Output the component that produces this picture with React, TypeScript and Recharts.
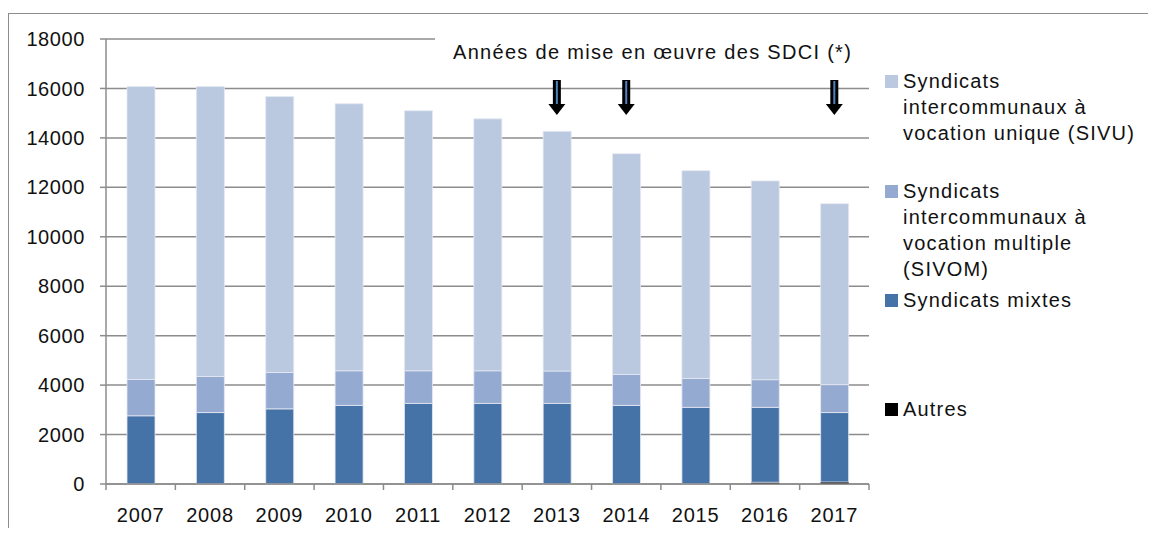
import { Bar, BarChart, CartesianGrid, ReferenceDot, XAxis, YAxis } from "recharts";

const years = ["2007", "2008", "2009", "2010", "2011", "2012", "2013", "2014", "2015", "2016", "2017"];
const autres = [0, 0, 0, 0, 0, 0, 0, 0, 0, 70, 80];
const mixtes = [2760, 2890, 3040, 3180, 3260, 3260, 3260, 3180, 3100, 3030, 2810];
const sivom = [1470, 1460, 1470, 1400, 1320, 1320, 1310, 1250, 1170, 1120, 1130];
const sivu = [11845, 11725, 11160, 10800, 10520, 10190, 9695, 8930, 8405, 8040, 7320];
const yTicks = [0, 2000, 4000, 6000, 8000, 10000, 12000, 14000, 16000, 18000];
const arrowYears = ["2013", "2014", "2017"];
const title = "Années de mise en œuvre des SDCI (*)";

const SERIES = [
  { key: "autres", name: "Autres", color: "#000000", lines: ["Autres"] },
  { key: "mixtes", name: "Syndicats mixtes", color: "#4573a7", lines: ["Syndicats mixtes"] },
  {
    key: "sivom",
    name: "SIVOM",
    color: "#95aad0",
    lines: ["Syndicats", "intercommunaux à", "vocation multiple", "(SIVOM)"],
  },
  {
    key: "sivu",
    name: "SIVU",
    color: "#bac8e0",
    lines: ["Syndicats", "intercommunaux à", "vocation unique (SIVU)"],
  },
];

// legend first-line centres (relative to root)
const LEGEND_TOP: Record<string, number> = { sivu: 73, sivom: 183, mixtes: 292, autres: 401 };

const rows = years.map((year, i) => ({
  year,
  autres: autres[i],
  mixtes: mixtes[i],
  sivom: sivom[i],
  sivu: sivu[i],
}));

const W = 1148;
const H = 520;
const PLOT_LEFT = 98;
const PLOT_RIGHT = 861;
const BAND = (PLOT_RIGHT - PLOT_LEFT) / years.length;
const FONT = "'Liberation Sans', Arial, Helvetica, sans-serif";
const GRID = "#8c8c8c";

const XTick = (props: any) => {
  const { x, y, payload, index } = props;
  return (
    <g>
      <line x1={x - BAND / 2} y1={y} x2={x - BAND / 2} y2={y + 6} stroke={GRID} strokeWidth={1.5} />
      {index === years.length - 1 && (
        <line x1={x + BAND / 2} y1={y} x2={x + BAND / 2} y2={y + 6} stroke={GRID} strokeWidth={1.5} />
      )}
      <text
        x={x}
        y={y + 31}
        textAnchor="middle"
        dominantBaseline="central"
        fontSize={20}
        fill="#111"
        fontFamily={FONT}
        letterSpacing={0.8}
      >
        {payload.value}
      </text>
    </g>
  );
};

const Arrow = (props: any) => {
  const { cx, cy } = props;
  const top = cy + 41;
  return (
    <g>
      <rect x={cx - 4} y={top} width={8} height={26} fill="#000" />
      <rect x={cx - 1} y={top + 1} width={2} height={24} fill="#4f81bd" />
      <polygon points={`${cx - 8.5},${top + 24} ${cx + 8.5},${top + 24} ${cx},${top + 35}`} fill="#000" />
    </g>
  );
};

export default function App() {
  return (
    <div style={{ position: "relative", width: W, height: H, fontFamily: FONT }}>
      <div
        style={{
          position: "absolute",
          left: 0,
          top: 5,
          width: W,
          height: H - 5,
          borderLeft: "1px solid #8c8c8c",
          borderTop: "1px solid #8c8c8c",
          boxSizing: "border-box",
        }}
      />
      <BarChart
        width={W}
        height={H}
        data={rows}
        margin={{ top: 31, right: W - PLOT_RIGHT, bottom: 4, left: PLOT_LEFT - 60 }}
        style={{ position: "absolute", left: 0, top: 0 }}
      >
        <CartesianGrid horizontal vertical={false} stroke={GRID} strokeWidth={1.5} />
        <XAxis
          dataKey="year"
          height={40}
          tickSize={0}
          tickMargin={0}
          tick={<XTick />}
          axisLine={{ stroke: GRID, strokeWidth: 1.5 }}
          interval={0}
        />
        <YAxis
          width={60}
          domain={[0, 18000]}
          ticks={yTicks}
          interval={0}
          tickSize={6}
          tickMargin={15}
          tickLine={{ stroke: GRID, strokeWidth: 1.5 }}
          axisLine={{ stroke: GRID, strokeWidth: 1.5 }}
          tick={{ fontSize: 20, fill: "#111", fontFamily: FONT, letterSpacing: 0.6 }}
        />
        {SERIES.map((s) => (
          <Bar
            key={s.key}
            dataKey={s.key}
            name={s.name}
            stackId="a"
            fill={s.color}
            barSize={28}
            stroke={s.key === "autres" ? undefined : "#e4e9f2"}
            strokeWidth={s.key === "autres" ? 0 : 0.8}
            isAnimationActive={false}
          />
        ))}
        {arrowYears.map((yr) => (
          <ReferenceDot key={yr} x={yr} y={18000} ifOverflow="visible" shape={<Arrow />} />
        ))}
      </BarChart>
      <div
        style={{
          position: "absolute",
          left: 427,
          top: 28,
          width: PLOT_RIGHT - 427 + 2,
          height: 32,
          lineHeight: "32px",
          paddingLeft: 18,
          boxSizing: "border-box",
          background: "#fff",
          fontSize: 20,
          color: "#111",
          whiteSpace: "nowrap",
          letterSpacing: 1.3,
        }}
      >
        {title}
      </div>
      {SERIES.map((s) => (
        <div
          key={s.key}
          style={{ position: "absolute", left: 877, top: LEGEND_TOP[s.key] - 13, fontSize: 20, color: "#111" }}
        >
          <div
            style={{
              position: "absolute",
              left: 0,
              top: 6.5,
              width: 13,
              height: 13,
              background: s.color,
            }}
          />
          <div style={{ marginLeft: 18, lineHeight: "26px", whiteSpace: "nowrap", letterSpacing: 1.2 }}>
            {s.lines.map((l, i) => (
              <div key={i}>{l}</div>
            ))}
          </div>
        </div>
      ))}
    </div>
  );
}
